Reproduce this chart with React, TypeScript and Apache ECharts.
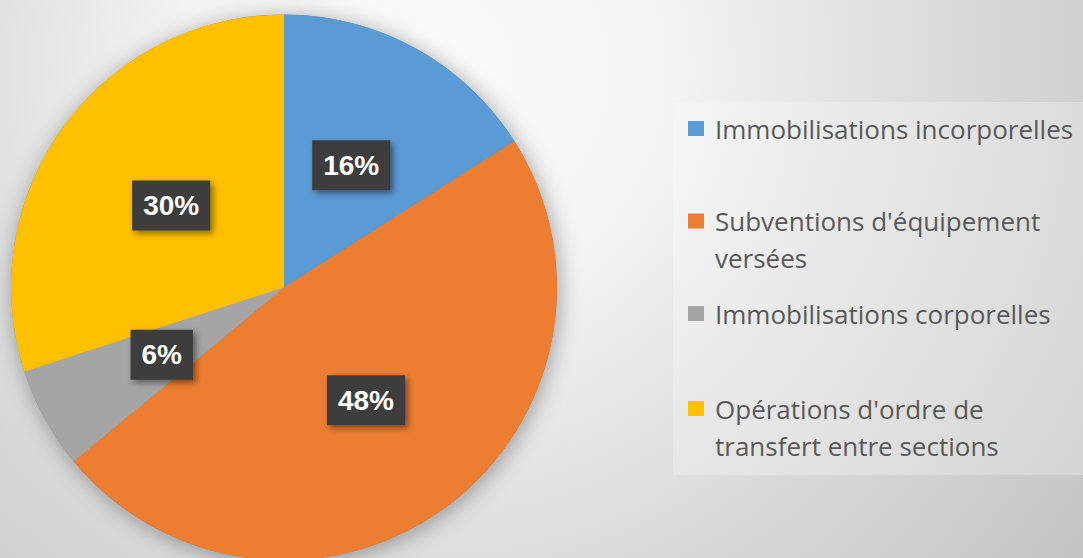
import React, { useEffect, useRef } from "react";
import * as echarts from "echarts";

const categories = [
  "Immobilisations incorporelles",
  "Subventions d'équipement versées",
  "Immobilisations corporelles",
  "Opérations d'ordre de transfert entre sections",
];
const legendTexts = [
  "Immobilisations incorporelles",
  "\u00a0\nSubventions d'équipement\nversées",
  "Immobilisations corporelles",
  "\u00a0\nOpérations d'ordre de\ntransfert entre sections",
];
const values = [16, 48, 6, 30];
const colors = ["#5B9BD5", "#ED7D31", "#A5A5A5", "#FFC000"];

export default function App() {
  const ref = useRef<HTMLDivElement>(null);
  useEffect(() => {
    document.body.style.margin = "0";
    const chart = echarts.init(ref.current!, null, { renderer: "svg" });
    const legendTops = [105, 160.5, 290, 348];
    const legends = categories.map((name, i) => ({
      orient: "vertical",
      left: 683,
      top: legendTops[i],
      data: [name],
      icon: "rect",
      itemWidth: 16,
      itemHeight: 15,
      selectedMode: false,
      formatter: () => legendTexts[i],
      textStyle: {
        color: "#595959",
        fontSize: 26,
        fontFamily: "Open Sans",
        lineHeight: 37,
        padding: [0, 0, 0, 6],
      },
    }));
    chart.setOption({
      animation: false,
      graphic: [
        {
          type: "rect",
          z: -10,
          silent: true,
          shape: { x: 0, y: 0, width: 1083, height: 558 },
          style: {
            fill: {
              type: "radial",
              x: 430,
              y: 70,
              r: 820,
              global: true,
              colorStops: [
                { offset: 0, color: "#fbfbfb" },
                { offset: 0.3, color: "#f3f3f3" },
                { offset: 0.52, color: "#e2e2e2" },
                { offset: 0.8, color: "#d0d0d0" },
                { offset: 1, color: "#c4c4c4" },
              ],
            },
          },
        },
        {
          type: "rect",
          z: -5,
          silent: true,
          shape: { x: 673, y: 102, width: 410, height: 373 },
          style: { fill: "rgba(255,255,255,0.25)" },
        },
      ],
      legend: legends,
      series: [
        {
          type: "pie",
          name: "shadow",
          silent: true,
          z: 1,
          center: [284, 287.5],
          radius: 273,
          label: { show: false },
          labelLine: { show: false },
          data: [
            {
              value: 1,
              name: "",
              itemStyle: {
                color: "#888888",
                shadowBlur: 22,
                shadowColor: "rgba(0,0,0,0.35)",
                shadowOffsetX: 2,
                shadowOffsetY: 3,
              },
            },
          ],
        },
        {
          type: "pie",
          z: 2,
          center: [284, 287.5],
          radius: 273,
          startAngle: 90,
          clockwise: true,
          color: colors,
          itemStyle: { borderWidth: 0 },
          emphasis: { disabled: true },
          label: {
            show: true,
            position: "inside",
            formatter: "{c}%",
            color: "#ffffff",
            fontSize: 28,
            fontWeight: "bold",
            fontFamily: "Liberation Sans",
            backgroundColor: "#3d3d3d",
            padding: [11, 11, 11, 11],
            shadowBlur: 6,
            shadowColor: "rgba(0,0,0,0.45)",
            shadowOffsetX: 3,
            shadowOffsetY: 3,
          },
          labelLine: { show: false },
          data: categories.map((name, i) => ({ name, value: values[i] })),
        },
      ],
    });
    return () => chart.dispose();
  }, []);
  return <div ref={ref} style={{ width: 1083, height: 558 }} />;
}
